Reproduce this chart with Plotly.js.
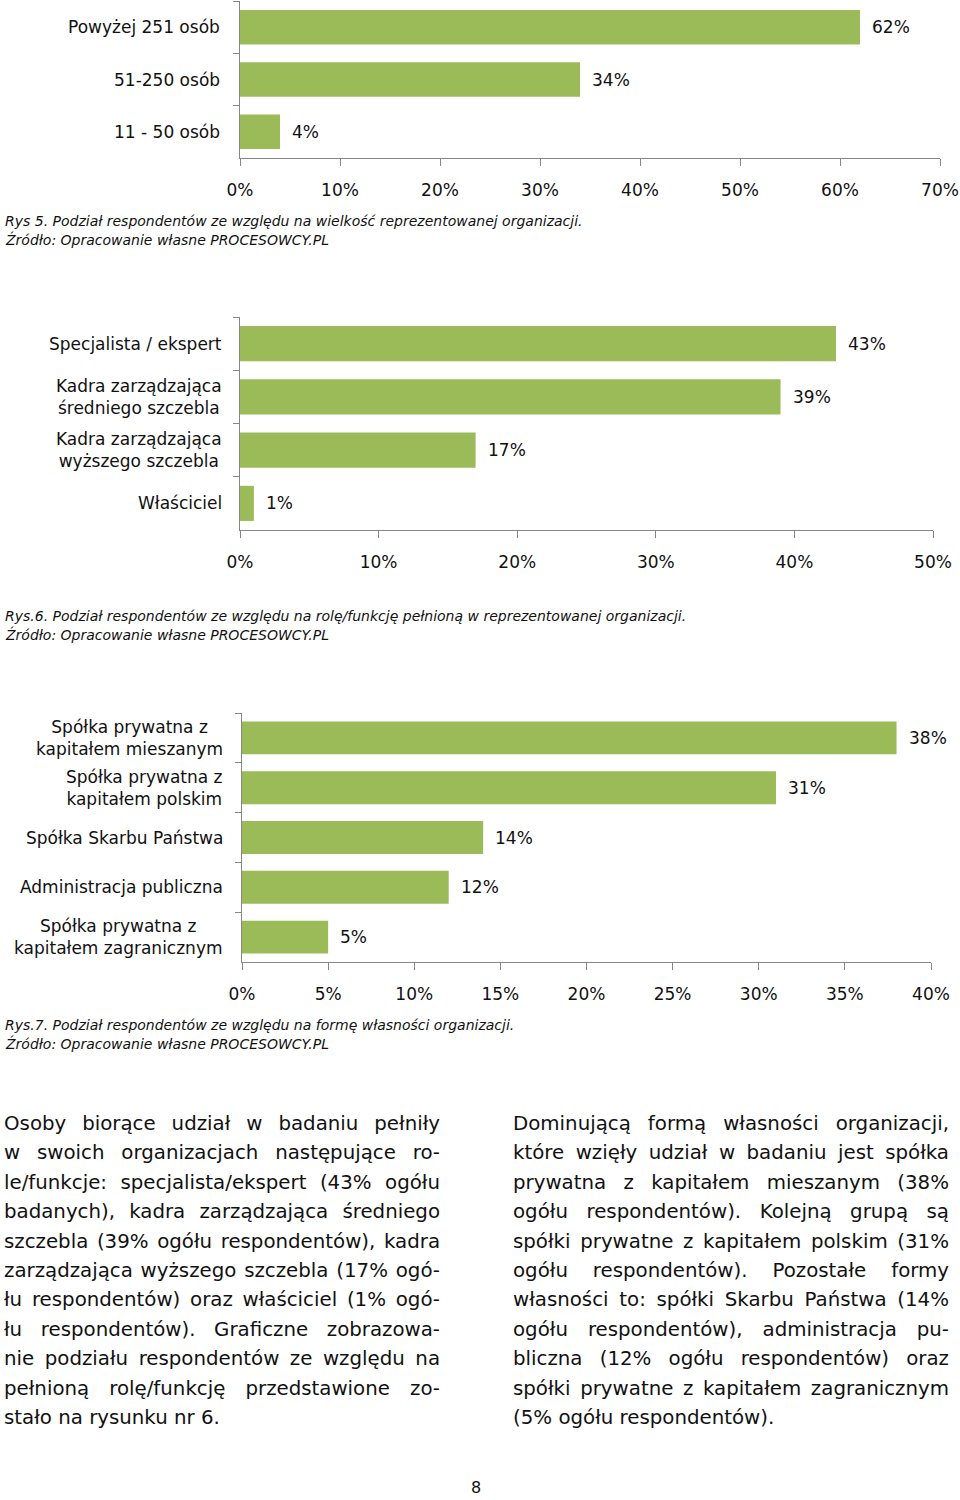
<!DOCTYPE html>
<html>
<head>
<meta charset="utf-8">
<script src="https://cdn.plot.ly/plotly-3.0.1.min.js"></script>
<style>
  html, body { margin: 0; padding: 0; background: #fff; }
  #wrap { position: relative; width: 960px; height: 1500px; overflow: hidden; }
  #chart { position: absolute; left: 0; top: 0; width: 960px; height: 1500px; }
  .col { position: absolute; font-family: "DejaVu Sans", sans-serif; font-size: 18px; color: #111; line-height: 29.4px; }
  .col div { white-space: nowrap; text-align: justify; text-align-last: justify; }
  .col div.last { text-align-last: left; }
  #pageno { position: absolute; left: 0; width: 952px; top: 1478px; text-align: center; font-family: "DejaVu Sans", sans-serif; font-size: 16px; color: #111; }
</style>
</head>
<body>
<div id="wrap">
  <div id="chart"></div>
  <div class="col" id="colL" style="left:4px; top:1109px; width:436px;"></div>
  <div class="col" id="colR" style="left:513px; top:1109px; width:436px;"></div>
  <div id="pageno">8</div>
</div>
<script>
// ---------- Data ----------
const sizeCategories = ["Powyżej 251 osób", "51-250 osób", "11 - 50 osób"];
const sizeValues = [62, 34, 4];

const roleCategories = ["Specjalista / ekspert", "Kadra zarządzająca<br>średniego szczebla", "Kadra zarządzająca<br>wyższego szczebla", "Właściciel"];
const roleValues = [43, 39, 17, 1];

const ownerCategories = ["Spółka prywatna z<br>kapitałem mieszanym", "Spółka prywatna z<br>kapitałem polskim", "Spółka Skarbu Państwa", "Administracja publiczna", "Spółka prywatna z<br>kapitałem zagranicznym"];
const ownerValues = [38, 31, 14, 12, 5];

const caption1 = ["Rys 5. Podział respondentów ze względu na wielkość reprezentowanej organizacji.", "Źródło: Opracowanie własne PROCESOWCY.PL"];
const caption2 = ["Rys.6. Podział respondentów ze względu na rolę/funkcję pełnioną w reprezentowanej organizacji.", "Źródło: Opracowanie własne PROCESOWCY.PL"];
const caption3 = ["Rys.7. Podział respondentów ze względu na formę własności organizacji.", "Źródło: Opracowanie własne PROCESOWCY.PL"];

const leftLines = [
  "Osoby biorące udział w badaniu pełniły",
  "w swoich organizacjach następujące ro-",
  "le/funkcje: specjalista/ekspert (43% ogółu",
  "badanych), kadra zarządzająca średniego",
  "szczebla (39% ogółu respondentów), kadra",
  "zarządzająca wyższego szczebla (17% ogó-",
  "łu respondentów) oraz właściciel (1% ogó-",
  "łu respondentów). Graficzne zobrazowa-",
  "nie podziału respondentów ze względu na",
  "pełnioną rolę/funkcję przedstawione zo-",
  "stało na rysunku nr 6."
];
const rightLines = [
  "Dominującą formą własności organizacji,",
  "które wzięły udział w badaniu jest spółka",
  "prywatna z kapitałem mieszanym (38%",
  "ogółu respondentów). Kolejną grupą są",
  "spółki prywatne z kapitałem polskim (31%",
  "ogółu respondentów). Pozostałe formy",
  "własności to: spółki Skarbu Państwa (14%",
  "ogółu respondentów), administracja pu-",
  "bliczna (12% ogółu respondentów) oraz",
  "spółki prywatne z kapitałem zagranicznym",
  "(5% ogółu respondentów)."
];

// ---------- Styling ----------
const FONT = "DejaVu Sans, sans-serif";
const GREEN = "#9BBB59";
const AXIS = "#868686";
const TXT = "#111111";
const H = 1500, W = 960;
const py = p => 1 - p / H;
const px = p => p / W;

function barTrace(cats, vals, xa, ya) {
  return { type: "bar", orientation: "h", y: cats, x: vals, xaxis: xa, yaxis: ya,
           marker: { color: GREEN }, hoverinfo: "skip", showlegend: false };
}
function xAxis(domain, anchor, max, dtick) {
  return { domain: domain, anchor: anchor, range: [0, max], dtick: dtick, tick0: 0,
           ticksuffix: "%", showgrid: false, zeroline: false, showline: true,
           linecolor: AXIS, linewidth: 1, ticks: "outside", ticklen: 7, tickcolor: AXIS,
           tickfont: { family: FONT, size: 17, color: TXT }, ticklabelstandoff: 10, fixedrange: true };
}
function yAxis(domain, anchor) {
  return { domain: domain, anchor: anchor, type: "category", autorange: "reversed",
           showgrid: false, zeroline: false, showline: true, linecolor: AXIS, linewidth: 1,
           ticks: "outside", ticklen: 6, tickcolor: AXIS, tickson: "boundaries",
           showticklabels: false, fixedrange: true };
}

const data = [
  barTrace(sizeCategories, sizeValues, "x", "y"),
  barTrace(roleCategories, roleValues, "x2", "y2"),
  barTrace(ownerCategories, ownerValues, "x3", "y3")
];

const annotations = [];
function catLabels(cats, yref, rightPx) {
  cats.forEach(c => annotations.push({ xref: "paper", yref: yref, x: px(rightPx), y: c,
    xanchor: "right", yanchor: "middle", align: "center", showarrow: false, text: c,
    font: { family: FONT, size: 17, color: TXT } }));
}
function valLabels(cats, vals, xref, yref) {
  cats.forEach((c, i) => annotations.push({ xref: xref, yref: yref, x: vals[i], y: c,
    xanchor: "left", yanchor: "middle", xshift: 10, showarrow: false, text: vals[i] + "%",
    font: { family: FONT, size: 17, color: TXT } }));
}
function caption(lines, topPx) {
  lines.forEach((t, i) => annotations.push({ xref: "paper", yref: "paper", x: px(3), y: py(topPx + i * 18.5),
    xanchor: "left", yanchor: "middle", showarrow: false, text: t,
    font: { family: FONT, size: 14, color: TXT, style: "italic" } }));
}
catLabels(sizeCategories, "y", 222);
catLabels(roleCategories, "y2", 224);
catLabels(ownerCategories, "y3", 225);
valLabels(sizeCategories, sizeValues, "x", "y");
valLabels(roleCategories, roleValues, "x2", "y2");
valLabels(ownerCategories, ownerValues, "x3", "y3");
caption(caption1, 221);
caption(caption2, 616);
caption(caption3, 1025);

const layout = {
  width: W, height: H, margin: { l: 0, r: 0, t: 0, b: 0 },
  paper_bgcolor: "#fff", plot_bgcolor: "#fff", bargap: 0.34,
  xaxis: xAxis([px(240), px(940)], "y", 70, 10),
  yaxis: yAxis([py(158), py(1)], "x"),
  xaxis2: xAxis([px(240), px(933)], "y2", 50, 10),
  yaxis2: yAxis([py(530), py(317)], "x2"),
  xaxis3: xAxis([px(242), px(931)], "y3", 40, 5),
  yaxis3: yAxis([py(962), py(713)], "x3"),
  annotations: annotations
};

Plotly.newPlot("chart", data, layout, { staticPlot: true, displayModeBar: false });

// Paragraph columns: pick a font size so the widest justified line fits the column
const measureCtx = document.createElement("canvas").getContext("2d");
function fitSize(lines, width) {
  measureCtx.font = "100px 'DejaVu Sans'";
  let maxW = 0;
  lines.slice(0, -1).forEach(t => { maxW = Math.max(maxW, measureCtx.measureText(t).width); });
  return Math.floor(100 * (width - 4) / maxW * 10) / 10;
}
function fillCol(id, lines) {
  const el = document.getElementById(id);
  lines.forEach((t, i) => {
    const d = document.createElement("div");
    d.textContent = t;
    if (i === lines.length - 1) d.className = "last";
    el.appendChild(d);
  });
  return el;
}
const elL = fillCol("colL", leftLines);
const elR = fillCol("colR", rightLines);
const fs = Math.min(fitSize(leftLines, 436), fitSize(rightLines, 436), 20);
elL.style.fontSize = fs + "px";
elR.style.fontSize = fs + "px";
</script>
</body>
</html>
